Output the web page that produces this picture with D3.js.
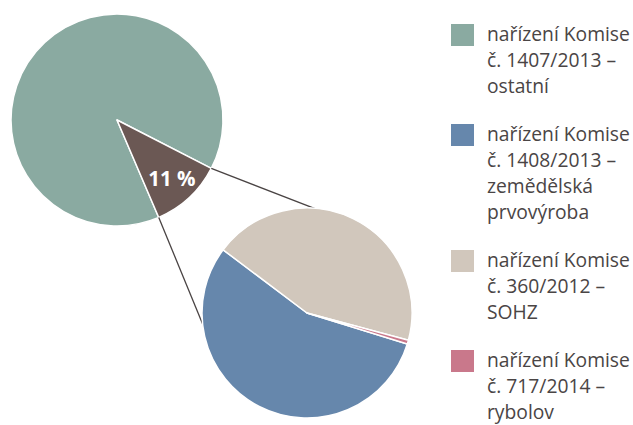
<!DOCTYPE html>
<html>
<head>
<meta charset="utf-8">
<script src="https://cdn.jsdelivr.net/npm/d3@7"></script>
<style>
  html, body { margin: 0; padding: 0; background: #fff; }
  svg { display: block; }
</style>
</head>
<body>
<svg id="chart" width="633" height="425"></svg>
<script>
// ---- data ----
const mainLabels = ["nařízení Komise č. 1407/2013 – ostatní", "ostatní režimy"];
const mainValues = [89, 11];
const subLabels = ["nařízení Komise č. 1408/2013 – zemědělská prvovýroba",
                   "nařízení Komise č. 360/2012 – SOHZ",
                   "nařízení Komise č. 717/2014 – rybolov"];
const subValues = [55.5, 43.9, 0.6];
const legendLines = [
  ["nařízení Komise", "č. 1407/2013 –", "ostatní"],
  ["nařízení Komise", "č. 1408/2013 –", "zemědělská", "prvovýroba"],
  ["nařízení Komise", "č. 360/2012 –", "SOHZ"],
  ["nařízení Komise", "č. 717/2014 –", "rybolov"]
];
const sliceLabel = "11 %";

// ---- styles ----
const mainColors = ["#8aaaa1", "#6b5854"];
const subColors = ["#6687ac", "#d1c7bc", "#c9788b"];
const legendColors = ["#8aaaa1", "#6687ac", "#d1c7bc", "#c9788b"];
const deg = Math.PI / 180;
const fontFam = "'Open Sans', Lato, sans-serif";

const svg = d3.select("#chart");

// ---- main pie ----
const big = {cx: 117, cy: 120, r: 106};
const mainPie = d3.pie().sort(null).value(d => d)
  .startAngle(156.8 * deg).endAngle(156.8 * deg + 2 * Math.PI);
const mainArcs = mainPie(mainValues);
const bigArc = d3.arc().innerRadius(0).outerRadius(big.r);
const gBig = svg.append("g").attr("transform", `translate(${big.cx},${big.cy})`);
gBig.selectAll("path").data(mainArcs).join("path")
  .attr("d", bigArc)
  .attr("fill", (d, i) => mainColors[i])
  .attr("stroke", "#fff").attr("stroke-width", 1.5).attr("stroke-linejoin", "round");

// ---- small pie ----
const small = {cx: 307, cy: 313, r: 105};
const subPie = d3.pie().sort(null).value(d => d)
  .startAngle(107.2 * deg).endAngle(107.2 * deg + 2 * Math.PI);
const subArcs = subPie(subValues);
const smallArc = d3.arc().innerRadius(0).outerRadius(small.r);

// ---- connector lines ----
const sl = mainArcs[1];
function pt(cx, cy, r, a) { return [cx + r * Math.sin(a), cy - r * Math.cos(a)]; }
const conn = [
  [pt(big.cx, big.cy, big.r, sl.startAngle), pt(small.cx, small.cy, small.r - 2, 7.7 * deg)],
  [pt(big.cx, big.cy, big.r, sl.endAngle), pt(small.cx, small.cy, small.r - 2, 259.6 * deg)]
];
svg.append("g").selectAll("line").data(conn).join("line")
  .attr("x1", d => d[0][0]).attr("y1", d => d[0][1])
  .attr("x2", d => d[1][0]).attr("y2", d => d[1][1])
  .attr("stroke", "#4a4444").attr("stroke-width", 1.3);

const gSmall = svg.append("g").attr("transform", `translate(${small.cx},${small.cy})`);
gSmall.selectAll("path").data(subArcs).join("path")
  .attr("d", smallArc)
  .attr("fill", (d, i) => subColors[i])
  .attr("stroke", "#fff").attr("stroke-width", 1.5).attr("stroke-linejoin", "round");

// ---- slice label ----
const labelArc = d3.arc().innerRadius(big.r * 0.76).outerRadius(big.r * 0.76);
gBig.append("text")
  .attr("transform", `translate(${labelArc.centroid(sl)})`)
  .attr("text-anchor", "middle").attr("dy", "0.36em")
  .attr("fill", "#fff").attr("font-family", fontFam)
  .attr("font-weight", 700).attr("font-size", 20.5)
  .text(sliceLabel);

// ---- legend ----
const lineH = 26, gap = 22, sq = 22;
// fit legend font so the longest line spans the reference width
const probe = svg.append("text").attr("font-family", fontFam).attr("font-size", 17)
  .text(legendLines[0][0]);
const w17 = probe.node().getComputedTextLength();
probe.remove();
const legendFont = 17 * 143 / w17;

const lg = svg.append("g");
let y = 24;
legendLines.forEach((lines, i) => {
  const g = lg.append("g").attr("transform", `translate(451,${y})`);
  g.append("rect").attr("width", sq + 1).attr("height", sq).attr("fill", legendColors[i]);
  g.selectAll("text").data(lines).join("text")
    .attr("x", 36).attr("y", (d, j) => 17 + j * lineH)
    .attr("fill", "#4a4545")
    .attr("font-family", fontFam).attr("font-size", legendFont)
    .text(d => d);
  y += lines.length * lineH + gap;
});
</script>
</body>
</html>
